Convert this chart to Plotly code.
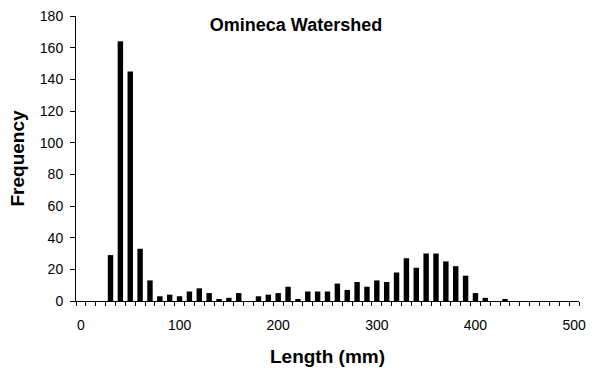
import plotly.graph_objects as go

# Length classes (mm), one bar per 10 mm bin
length_bins = list(range(0, 510, 10))

# Number of fish in each length class
frequency = [
    0, 0, 0, 29, 164, 145, 33, 13, 3, 4,      # 0-90
    3, 6, 8, 5, 1, 2, 5, 0, 3, 4,             # 100-190
    5, 9, 1, 6, 6, 6, 11, 7, 12, 9,           # 200-290
    13, 12, 18, 27, 21, 30, 30, 25, 22, 16,   # 300-390
    5, 2, 0, 1, 0, 0, 0, 0, 0, 0,             # 400-490
    0,                                        # 500
]

x_tick_labels = [0, 100, 200, 300, 400, 500]
y_tick_labels = list(range(0, 200, 20))

FONT = "Arial, Liberation Sans, sans-serif"

fig = go.Figure(
    go.Bar(
        x=length_bins,
        y=frequency,
        width=5.5,
        marker=dict(color="black", line=dict(width=0)),
        hoverinfo="x+y",
    )
)

fig.update_layout(
    width=594,
    height=375,
    margin=dict(l=76, r=8, t=16, b=74),
    paper_bgcolor="white",
    plot_bgcolor="white",
    showlegend=False,
    font=dict(family=FONT, color="black", size=14),
    title=dict(
        text="Omineca Watershed",
        font=dict(family=FONT, size=18, weight="bold", color="black"),
        x=296 / 594,
        xanchor="center",
        xref="container",
        y=1 - 18 / 375,
        yanchor="top",
        yref="container",
    ),
)

fig.update_xaxes(
    range=[-5, 505],
    tickmode="array",
    tickvals=x_tick_labels,
    ticktext=[str(v) for v in x_tick_labels],
    ticks="",
    ticklabelstandoff=11,
    minor=dict(ticks="outside", tick0=5, dtick=10, ticklen=4,
               tickcolor="black", tickwidth=1, showgrid=False),
    showline=True,
    linecolor="black",
    linewidth=1,
    showgrid=False,
    zeroline=False,
    tickfont=dict(family=FONT, size=14, color="black"),
    title=dict(
        text="Length (mm)",
        font=dict(family=FONT, size=19, weight="bold", color="black"),
        standoff=17,
    ),
)

fig.update_yaxes(
    range=[0, 180],
    tickmode="array",
    tickvals=y_tick_labels,
    ticks="outside",
    ticklen=5,
    tickcolor="black",
    tickwidth=1,
    ticklabelstandoff=4,
    showline=True,
    linecolor="black",
    linewidth=1,
    showgrid=False,
    zeroline=False,
    tickfont=dict(family=FONT, size=14, color="black"),
    title=dict(
        text="Frequency",
        font=dict(family=FONT, size=19, weight="bold", color="black"),
        standoff=10,
    ),
)

fig.write_html("out.html")
